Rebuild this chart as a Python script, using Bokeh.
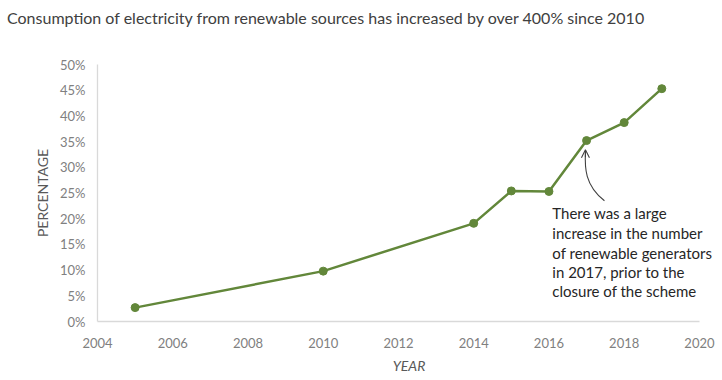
from bokeh.plotting import figure
from bokeh.layouts import column
from bokeh.models import (ColumnDataSource, FixedTicker, PrintfTickFormatter, Label,
                          Range1d, Arrow, OpenHead, Div)
from bokeh.embed import file_html
from bokeh.resources import INLINE

years = [2005, 2010, 2014, 2015, 2016, 2017, 2018, 2019]
percentage = [2.7, 9.8, 19.1, 25.4, 25.3, 35.2, 38.7, 45.3]
x_ticks = [2004, 2006, 2008, 2010, 2012, 2014, 2016, 2018, 2020]
y_ticks = [0, 5, 10, 15, 20, 25, 30, 35, 40, 45, 50]
title_text = "Consumption of electricity from renewable sources has increased by over 400% since 2010"
note_lines = ["There was a large", "increase in the number", "of  renewable generators",
              "in 2017, prior to the", "closure of the scheme"]

GREEN = "#62873a"
TICK_FONT = "Lato"

title_div = Div(text=title_text, width=700, height=34, margin=(0, 0, 0, 0),
                styles={"font-family": "Lato", "font-size": "16px", "color": "#404040",
                        "line-height": "19px", "padding-top": "8px", "padding-left": "7px",
                        "white-space": "nowrap", "box-sizing": "border-box"})

p = figure(width=722, height=346, output_backend="svg", toolbar_location=None,
           x_range=Range1d(2004, 2020.56), y_range=Range1d(0, 50), margin=(0, 0, 0, 0),
           min_border_left=97, min_border_right=2, min_border_top=30, min_border_bottom=59)
p.title = None
p.outline_line_color = None
p.background_fill_color = "white"
p.border_fill_color = "white"
p.xgrid.visible = False
p.ygrid.visible = False

src = ColumnDataSource(dict(x=years, y=percentage))
p.line("x", "y", source=src, line_color=GREEN, line_width=2.5)
p.scatter("x", "y", source=src, size=8, fill_color=GREEN, line_color=GREEN)

for ax in (p.xaxis[0], p.yaxis[0]):
    ax.axis_line_color = "#d9d9d9"
    ax.axis_line_width = 1.3
    ax.major_tick_line_color = None
    ax.minor_tick_line_color = None
    ax.major_tick_out = 0
    ax.major_tick_in = 0
    ax.minor_tick_out = 0
    ax.minor_tick_in = 0
    ax.major_label_text_color = "#808080"
    ax.major_label_text_font = TICK_FONT
    ax.major_label_text_font_size = "13px"
    ax.axis_label_text_color = "#595959"
    ax.axis_label_text_font = TICK_FONT
    ax.axis_label_text_font_size = "14px"

p.xaxis.ticker = FixedTicker(ticks=x_ticks)
p.xaxis.bounds = (2004, 2020)
p.yaxis.ticker = FixedTicker(ticks=y_ticks)
p.yaxis.formatter = PrintfTickFormatter(format="%d%%")
p.yaxis.major_label_standoff = 12
p.xaxis.major_label_standoff = 16
p.yaxis.axis_label = "PERCENTAGE"
p.yaxis.axis_label_standoff = 6
p.yaxis.axis_label_text_font_style = "normal"
p.xaxis.axis_label = "YEAR"
p.xaxis.axis_label_standoff = 6
p.xaxis.axis_label_text_font_style = "italic"

# annotation text
line_y = [21.2, 17.3, 13.4, 9.7, 6.0]
for t, yy in zip(note_lines, line_y):
    p.add_layout(Label(x=2016.09, y=yy, text=t, text_font=TICK_FONT, text_font_size="15px",
                       text_color="#262626", text_baseline="middle", text_align="left"))

# curved arrow
p.bezier(x0=[2017.475], y0=[23.5], x1=[2016.97], y1=[33.0], cx0=[2016.95], cy0=[26.5],
         cx1=[2016.95], cy1=[30.0], line_color="#404040", line_width=1.1)
p.add_layout(Arrow(end=OpenHead(size=8, line_color="#404040", line_width=1.1),
                   x_start=2016.97, y_start=32.0, x_end=2016.97, y_end=33.4,
                   line_color="#404040", line_width=1.1))

layout = column(title_div, p, spacing=0)
open("out.html", "w").write(file_html(layout, INLINE))
